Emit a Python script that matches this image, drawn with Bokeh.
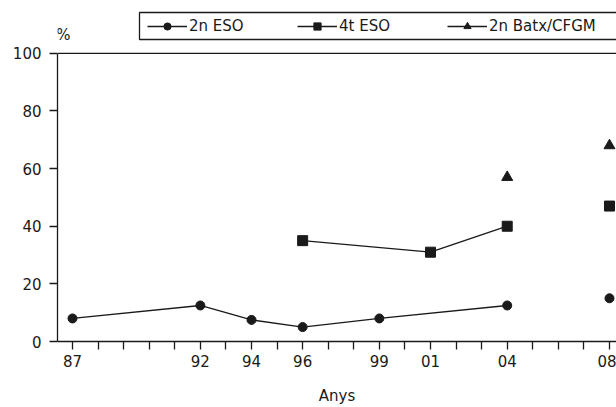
from bokeh.plotting import figure
from bokeh.models import (Range1d, FixedTicker, Label, Legend, LegendItem, Span,
                          BoxAnnotation)
from bokeh.embed import file_html
from bokeh.resources import INLINE

# ---- data -------------------------------------------------------------
years_eso2 = [1987, 1992, 1994, 1996, 1999, 2004, 2008]
eso2 = [8, 12.5, 7.5, 5, 8, 12.5, 15]

years_eso4 = [1996, 2001, 2004, 2008]
eso4 = [35, 31, 40, 47]

years_batx = [2004, 2008]
batx = [57, 68]

series_names = ["2n ESO", "4t ESO", "2n Batx/CFGM"]
connected_until = 2004          # last survey joined by a line

all_years = list(range(1987, 2009))
labeled_years = [1987, 1992, 1994, 1996, 1999, 2001, 2004, 2008]
tick_labels = ["87", "92", "94", "96", "99", "01", "04", "08"]
y_ticks = [0, 20, 40, 60, 80, 100]
y_max = 100
y_label = "%"
x_label = "Anys"

# ---- style ------------------------------------------------------------
FONT = "DejaVu Sans"
INK = "#1a1a1a"
FS = "15px"

# frame spans the full height so that legend and "%" sit inside it;
# the visible value scale is 0..100 (axis bounded), headroom above.
p = figure(width=616, height=407, output_backend="svg", toolbar_location=None,
           x_range=Range1d(1986.413, 2008.274), y_range=Range1d(0, 118.34),
           min_border_left=57, min_border_right=0, min_border_top=0,
           min_border_bottom=65)
p.grid.visible = False
p.outline_line_color = None
p.background_fill_color = "white"
p.border_fill_color = "white"

markers = ["circle", "square", "triangle"]
sizes = [9, 10, 11]
data = [(years_eso2, eso2), (years_eso4, eso4), (years_batx, batx)]
items = []
for name, (xs, ys), mk, sz in zip(series_names, data, markers, sizes):
    lx = [x for x in xs if x <= connected_until]
    ly = [y for x, y in zip(xs, ys) if x <= connected_until]
    ln = p.line(lx, ly, line_color=INK, line_width=1.3)
    sc = p.scatter(xs, ys, marker=mk, size=sz, fill_color=INK, line_color=INK)
    items.append(LegendItem(label=name, renderers=[ln, sc]))

# axes
xa = p.xaxis[0]
ya = p.yaxis[0]
xa.ticker = FixedTicker(ticks=all_years)
overrides = {y: "" for y in all_years}
overrides.update({y: t for y, t in zip(labeled_years, tick_labels)})
xa.major_label_overrides = overrides
xa.axis_label = x_label
for ax in (xa, ya):
    ax.axis_line_color = INK
    ax.axis_line_width = 1.3
    ax.major_tick_line_color = INK
    ax.major_tick_line_width = 1.3
    ax.major_tick_out = 8
    ax.major_tick_in = 0
    ax.minor_tick_line_color = None
    ax.major_label_text_font = FONT
    ax.major_label_text_font_size = FS
    ax.major_label_text_color = INK
    ax.axis_label_text_font = FONT
    ax.axis_label_text_font_size = FS
    ax.axis_label_text_font_style = "normal"
    ax.axis_label_text_color = INK
xa.major_label_standoff = 5
xa.axis_label_standoff = 17
ya.ticker = FixedTicker(ticks=y_ticks)
ya.bounds = (0, y_max)
ya.major_label_standoff = 8

# top line of the frame at 100
p.add_layout(Span(location=y_max, dimension="width", line_color=INK,
                  line_width=1.3))

# "%" label
p.add_layout(Label(x=6, y=307, x_units="screen", y_units="screen", text=y_label,
                   text_font=FONT, text_font_size=FS, text_color=INK,
                   text_align="center", text_baseline="middle"))

# legend frame (runs off the right edge, as in the original)
p.add_layout(BoxAnnotation(left=82, right=700, bottom=302, top=329,
                           left_units="screen", right_units="screen",
                           bottom_units="screen", top_units="screen",
                           fill_alpha=0, line_color=INK, line_width=1.3,
                           line_alpha=1))

legend = Legend(items=items, orientation="horizontal", location=(85, 301),
                glyph_width=40, glyph_height=18, label_standoff=2,
                label_width=108, spacing=0, padding=5, margin=0,
                border_line_alpha=0, background_fill_alpha=0,
                label_text_font=FONT, label_text_font_size=FS,
                label_text_color=INK)
p.add_layout(legend)

open("out.html", "w").write(file_html(p, INLINE))
